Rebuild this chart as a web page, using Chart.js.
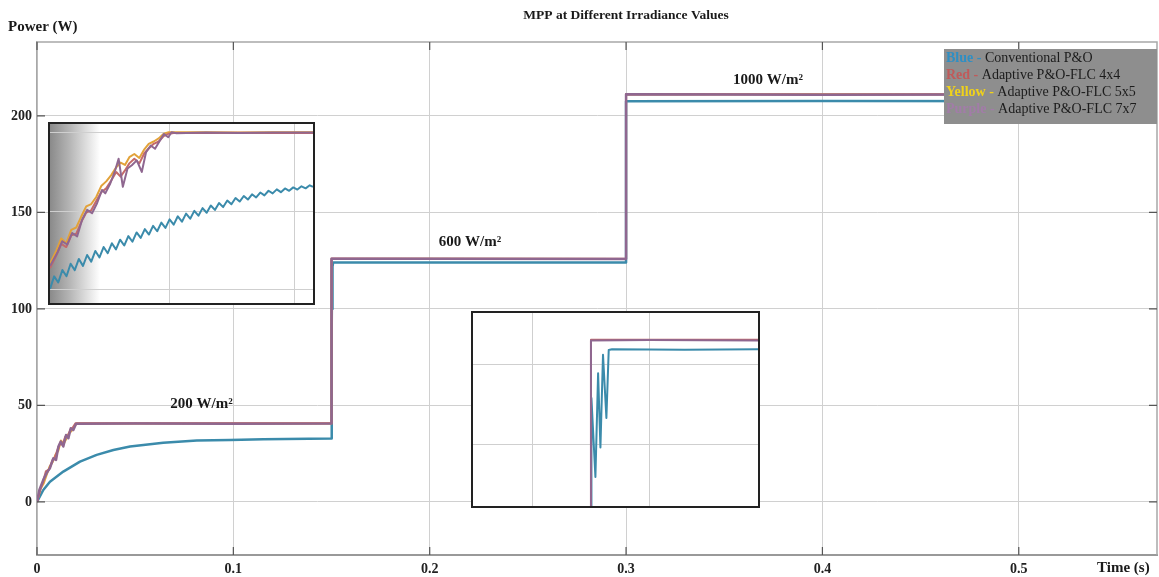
<!DOCTYPE html>
<html>
<head>
<meta charset="utf-8">
<script src="https://cdn.jsdelivr.net/npm/chart.js@4.4.0/dist/chart.umd.min.js"></script>
<style>
  body { margin: 0; background: #fff; }
  #wrap { position: relative; width: 1159px; height: 577px; }
  #wrap canvas { display: block; }
  .inset { position: absolute; border: 2px solid #222; background: #fff; }
</style>
</head>
<body>
<div id="wrap">
  <canvas id="main" width="1159" height="577"></canvas>
  <div class="inset" style="left:48px;top:122px;width:263px;height:179px"><canvas id="zoomStart" width="263" height="179"></canvas></div>
  <div class="inset" style="left:471px;top:311px;width:285px;height:193px"><canvas id="zoomStep" width="285" height="193"></canvas></div>
</div>
<script>
var serif = "'Liberation Serif', 'Times New Roman', serif";

// ---- main chart: time (s) / power (W)
var xTicks = [0, 0.1, 0.2, 0.3, 0.4, 0.5];
var yTicks = [0, 50, 100, 150, 200];

var purpleT = [0, 0.0012, 0.0032, 0.0049, 0.0066, 0.0083, 0.0097, 0.0109, 0.0121, 0.0134, 0.0148, 0.0160, 0.0172, 0.0185, 0.0199, 0.05, 0.1, 0.15, 0.15, 0.2, 0.3, 0.3, 0.4, 0.5704];
var purpleP = [0, 6.2, 11.4, 14.9, 17.5, 22.6, 21.8, 28.7, 31.3, 28.7, 34.7, 33.0, 38.2, 37.3, 40.5, 40.6, 40.5, 40.6, 126.0, 126.0, 125.9, 211.2, 211.0, 211.2];
var redT = [0, 0.0015, 0.0030, 0.0045, 0.0062, 0.0078, 0.0092, 0.0105, 0.0118, 0.0130, 0.0144, 0.0157, 0.0169, 0.0182, 0.0196, 0.05, 0.1, 0.15, 0.15, 0.2, 0.3, 0.3, 0.4, 0.5704];
var redP = [0, 5.5, 10.2, 15.8, 16.9, 21.5, 23.4, 27.2, 30.4, 29.6, 33.8, 34.2, 37.4, 38.5, 40.8, 40.7, 40.8, 40.7, 126.1, 126.0, 126.0, 211.3, 211.1, 211.3];
var yellowT = [0, 0.0018, 0.0034, 0.0050, 0.0064, 0.0080, 0.0095, 0.0108, 0.0122, 0.0136, 0.0150, 0.0163, 0.0176, 0.0190, 0.0203, 0.05, 0.1, 0.15, 0.15, 0.2, 0.3, 0.3, 0.4, 0.5704];
var yellowP = [0, 6.8, 9.6, 14.2, 18.3, 20.7, 24.6, 26.4, 31.8, 30.1, 32.9, 35.6, 36.8, 39.1, 40.6, 40.6, 40.6, 40.6, 125.9, 126.0, 125.9, 211.1, 211.2, 211.1];
var blueT = [0, 0.0032, 0.0066, 0.0134, 0.0219, 0.0304, 0.0389, 0.0474, 0.0643, 0.0814, 0.0983, 0.1153, 0.15, 0.1501, 0.1503, 0.1504, 0.1506, 0.1508, 0.2, 0.3, 0.3, 0.4, 0.5704];
var blueP = [0, 6.2, 10.5, 15.7, 20.9, 24.4, 26.9, 28.7, 30.7, 31.8, 32.1, 32.5, 32.8, 90, 118, 100, 122, 124, 124.1, 124.0, 207.6, 207.7, 207.6];

// ---- inset 1: start-up (time in ms)
var startXTicks = [20, 40];
var startYTicks = [20, 30, 40];
var startPurpleT = [0.8, 1.97, 2.76, 3.56, 4.35, 5.15, 5.94, 6.74, 7.53, 8.33, 9.12, 9.65, 10.45, 11.24, 11.78, 12.46, 13.21, 13.90, 14.69, 15.49, 16.18, 16.92, 17.61, 18.40, 19.04, 19.73, 20.26, 21.05, 25.8, 31.1, 36.4, 42.9];
var startPurpleP = [22.97, 24.66, 26.14, 25.72, 27.20, 26.77, 28.89, 30.15, 29.73, 31.00, 32.69, 32.27, 33.53, 35.22, 36.70, 33.11, 35.44, 35.86, 36.49, 35.01, 37.55, 38.39, 37.97, 39.03, 39.87, 39.45, 40.08, 39.96, 40.04, 40.0, 40.05, 40.04];
var startOtherT = [0.8, 1.8, 2.6, 3.4, 4.2, 5.0, 5.8, 6.6, 7.4, 8.2, 9.0, 9.8, 10.6, 11.4, 12.1, 12.8, 13.5, 14.3, 15.1, 15.9, 16.6, 17.4, 18.2, 19.0, 19.8, 20.6, 25.8, 31.1, 36.4, 42.9];
var startRedP = [22.7, 24.3, 25.8, 25.4, 26.9, 27.1, 28.6, 29.8, 30.1, 31.3, 32.4, 32.9, 33.9, 35.0, 34.4, 35.2, 36.1, 36.7, 36.1, 37.4, 38.0, 38.6, 38.9, 39.6, 39.9, 40.0, 40.0, 40.02, 40.0, 40.0];
var startYellowP = [23.3, 24.9, 26.5, 25.9, 27.6, 27.9, 29.3, 30.6, 30.9, 31.8, 33.2, 33.8, 34.6, 35.6, 36.2, 35.9, 36.9, 37.3, 36.8, 37.9, 38.6, 38.9, 39.3, 39.9, 40.1, 40.1, 40.1, 40.05, 40.1, 40.1];
var startBlueT = [0.8, 1.46, 2.12, 2.78, 3.44, 4.10, 4.76, 5.42, 6.08, 6.74, 7.40, 8.06, 8.72, 9.38, 10.04, 10.70, 11.36, 12.02, 12.68, 13.34, 14.00, 14.66, 15.32, 15.98, 16.64, 17.30, 17.96, 18.62, 19.28, 19.94, 20.60, 21.26, 21.92, 22.58, 23.24, 23.90, 24.56, 25.22, 25.88, 26.54, 27.20, 27.86, 28.52, 29.18, 29.84, 30.50, 31.16, 31.82, 32.48, 33.14, 33.80, 34.46, 35.12, 35.78, 36.44, 37.10, 37.76, 38.42, 39.08, 39.74, 40.40, 41.06, 41.72, 42.38, 42.90];
var startBlueP = [20.05, 21.65, 20.86, 22.46, 21.66, 23.26, 22.45, 23.88, 22.99, 24.38, 23.53, 24.90, 24.07, 25.40, 24.61, 25.88, 25.10, 26.34, 25.59, 26.80, 26.08, 27.27, 26.57, 27.70, 27.00, 28.11, 27.42, 28.52, 27.85, 28.94, 28.27, 29.33, 28.64, 29.68, 29.03, 30.03, 29.41, 30.38, 29.79, 30.71, 30.15, 31.03, 30.51, 31.35, 30.87, 31.67, 31.22, 31.93, 31.48, 32.15, 31.74, 32.37, 32.00, 32.60, 32.26, 32.78, 32.42, 32.90, 32.59, 33.03, 32.75, 33.17, 32.91, 33.30, 33.10];

// ---- inset 2: step at 0.15 s (time in ms)
var stepXTicks = [149.5, 150.5];
var stepYTicks = [113, 123];
var stepPurpleT = [148.99, 150.0, 150.0, 150.5, 151.43];
var stepPurpleP = [40.6, 40.6, 126.0, 126.05, 126.0];
var stepRedP = [40.7, 40.7, 126.1, 126.1, 126.1];
var stepBlueT = [148.99, 150.004, 150.004, 150.038, 150.061, 150.081, 150.103, 150.132, 150.152, 150.18, 150.8, 151.43];
var stepBlueP = [32.8, 32.8, 118.8, 108.9, 121.9, 112.6, 124.2, 116.3, 124.8, 124.9, 124.85, 124.9];

var legendWords = ['Blue', 'Red', 'Yellow', 'Purple'];
var legendNames = ['Conventional P&O', 'Adaptive P&O-FLC 4x4', 'Adaptive P&O-FLC 5x5', 'Adaptive P&O-FLC 7x7'];
var irradianceLabels = ['200 W/m²', '600 W/m²', '1000 W/m²'];

var colBlue = '#3b8bab', colRed = '#c46a6a', colYellow = '#e2a23a', colPurple = '#8f6790';
var wordColors = ['#2f8fc4', '#c05a5a', '#f0d21a', '#a27ca8'];
var labelAt = [[0.0838, 50.8], [0.2205, 134.4], [0.3723, 218.3]];

function pts(t, p) {
  return t.map(function (v, i) { return { x: v, y: p[i] }; });
}
function line(label, t, p, color, w) {
  return { label: label, data: pts(t, p), borderColor: color, borderWidth: w, pointRadius: 0, tension: 0, borderJoinStyle: 'round' };
}
function fixTicks(list) {
  return function (s) { s.ticks = list.map(function (v) { return { value: v }; }); };
}

var decor = {
  id: 'decor',
  afterDraw: function (chart) {
    var ctx = chart.ctx, a = chart.chartArea, xs = chart.scales.x, ys = chart.scales.y;
    ctx.save();
    // rest of the frame
    ctx.strokeStyle = '#a8a8a8';
    ctx.lineWidth = 1.5;
    ctx.beginPath();
    ctx.moveTo(a.left, a.top); ctx.lineTo(a.right, a.top); ctx.lineTo(a.right, a.bottom);
    ctx.stroke();
    // inward tick marks
    ctx.strokeStyle = '#555';
    ctx.lineWidth = 1.2;
    ctx.beginPath();
    xTicks.forEach(function (v) {
      var px = xs.getPixelForValue(v);
      ctx.moveTo(px, a.bottom); ctx.lineTo(px, a.bottom - 8);
      ctx.moveTo(px, a.top); ctx.lineTo(px, a.top + 8);
    });
    yTicks.forEach(function (v) {
      var py = ys.getPixelForValue(v);
      ctx.moveTo(a.left, py); ctx.lineTo(a.left + 8, py);
      ctx.moveTo(a.right, py); ctx.lineTo(a.right - 8, py);
    });
    ctx.stroke();

    ctx.fillStyle = '#1a1a1a';
    ctx.textBaseline = 'middle';
    ctx.font = 'bold 13.5px ' + serif;
    ctx.textAlign = 'center';
    ctx.fillText('MPP at Different Irradiance Values', 626, 16);
    ctx.font = 'bold 15px ' + serif;
    ctx.textAlign = 'left';
    ctx.fillText('Power (W)', 8, 27);
    ctx.fillText('Time (s)', 1097, 568);

    ctx.textAlign = 'center';
    irradianceLabels.forEach(function (txt, i) {
      ctx.fillText(txt, xs.getPixelForValue(labelAt[i][0]), ys.getPixelForValue(labelAt[i][1]));
    });

    // legend box
    var bw = 213, bh = 75, bx = a.right - bw, by = a.top + 7;
    ctx.fillStyle = '#8e8e8e';
    ctx.fillRect(bx, by, bw, bh);
    ctx.textAlign = 'left';
    legendWords.forEach(function (w, i) {
      var y = by + 9.5 + i * 17;
      ctx.font = 'bold 14px ' + serif;
      ctx.fillStyle = wordColors[i];
      ctx.fillText(w + ' -', bx + 2, y);
      var off = ctx.measureText(w + ' - ').width;
      ctx.font = '14px ' + serif;
      ctx.fillStyle = '#1c1c1c';
      ctx.fillText(legendNames[i], bx + 2 + off, y);
    });
    ctx.restore();
  }
};

new Chart(document.getElementById('main'), {
  type: 'line',
  data: {
    datasets: [
      line('Purple', purpleT, purpleP, colPurple, 2.5),
      line('Red', redT, redP, colRed, 2),
      line('Yellow', yellowT, yellowP, colYellow, 2),
      line('Blue', blueT, blueP, colBlue, 2.5)
    ]
  },
  options: {
    responsive: false,
    animation: false,
    layout: { padding: { top: 42, right: 2, left: 0, bottom: 0 } },
    plugins: { legend: { display: false }, tooltip: { enabled: false } },
    scales: {
      x: {
        type: 'linear', min: 0, max: 0.5704,
        afterBuildTicks: fixTicks(xTicks),
        afterFit: function (s) { s.height = 22; },
        grid: { color: '#d0d0d0', lineWidth: 1, drawTicks: false },
        border: { color: '#999', width: 2 },
        ticks: { padding: 6, color: '#222', font: { family: serif, size: 14, weight: 'bold' }, maxRotation: 0,
          callback: function (v) { return String(v); } }
      },
      y: {
        min: -27.5, max: 238.3,
        afterBuildTicks: fixTicks(yTicks),
        afterFit: function (s) { s.width = 37; },
        grid: { color: '#d0d0d0', lineWidth: 1, drawTicks: false },
        border: { color: '#a8a8a8', width: 1.5 },
        ticks: { padding: 5, color: '#222', font: { family: serif, size: 14, weight: 'bold' } }
      }
    }
  },
  plugins: [decor]
});

function insetOptions(xmin, xmax, xt, ymin, ymax, yt) {
  return {
    responsive: false,
    animation: false,
    layout: { padding: 0 },
    plugins: { legend: { display: false }, tooltip: { enabled: false } },
    scales: {
      x: { type: 'linear', min: xmin, max: xmax, afterBuildTicks: fixTicks(xt),
        afterFit: function (s) { s.height = 0; },
        ticks: { display: false }, border: { display: false },
        grid: { color: '#cfcfcf', drawTicks: false } },
      y: { min: ymin, max: ymax, afterBuildTicks: fixTicks(yt),
        afterFit: function (s) { s.width = 0; },
        ticks: { display: false }, border: { display: false },
        grid: { color: '#cfcfcf', drawTicks: false } }
    }
  };
}

var shade = {
  id: 'shade',
  beforeDraw: function (chart) {
    var ctx = chart.ctx, a = chart.chartArea;
    var w = (a.right - a.left) * 0.19;
    var g = ctx.createLinearGradient(a.left, 0, a.left + w, 0);
    g.addColorStop(0, '#8a8a8a');
    g.addColorStop(0.4, '#b6b6b6');
    g.addColorStop(1, '#ffffff');
    ctx.save();
    ctx.fillStyle = g;
    ctx.fillRect(a.left, a.top, w, a.bottom - a.top);
    ctx.restore();
  }
};

new Chart(document.getElementById('zoomStart'), {
  type: 'line',
  data: {
    datasets: [
      line('Purple', startPurpleT, startPurpleP, colPurple, 2),
      line('Red', startOtherT, startRedP, colRed, 2),
      line('Yellow', startOtherT, startYellowP, colYellow, 2),
      line('Blue', startBlueT, startBlueP, colBlue, 2)
    ]
  },
  options: insetOptions(0.8, 42.9, startXTicks, 18.24, 41.14, startYTicks),
  plugins: [shade]
});

new Chart(document.getElementById('zoomStep'), {
  type: 'line',
  data: {
    datasets: [
      line('Purple', stepPurpleT, stepPurpleP, colPurple, 2),
      line('Red', stepPurpleT, stepRedP, colRed, 2),
      line('Blue', stepBlueT, stepBlueP, colBlue, 2)
    ]
  },
  options: insetOptions(148.99, 151.43, stepXTicks, 105.27, 129.44, stepYTicks)
});
</script>
</body>
</html>
